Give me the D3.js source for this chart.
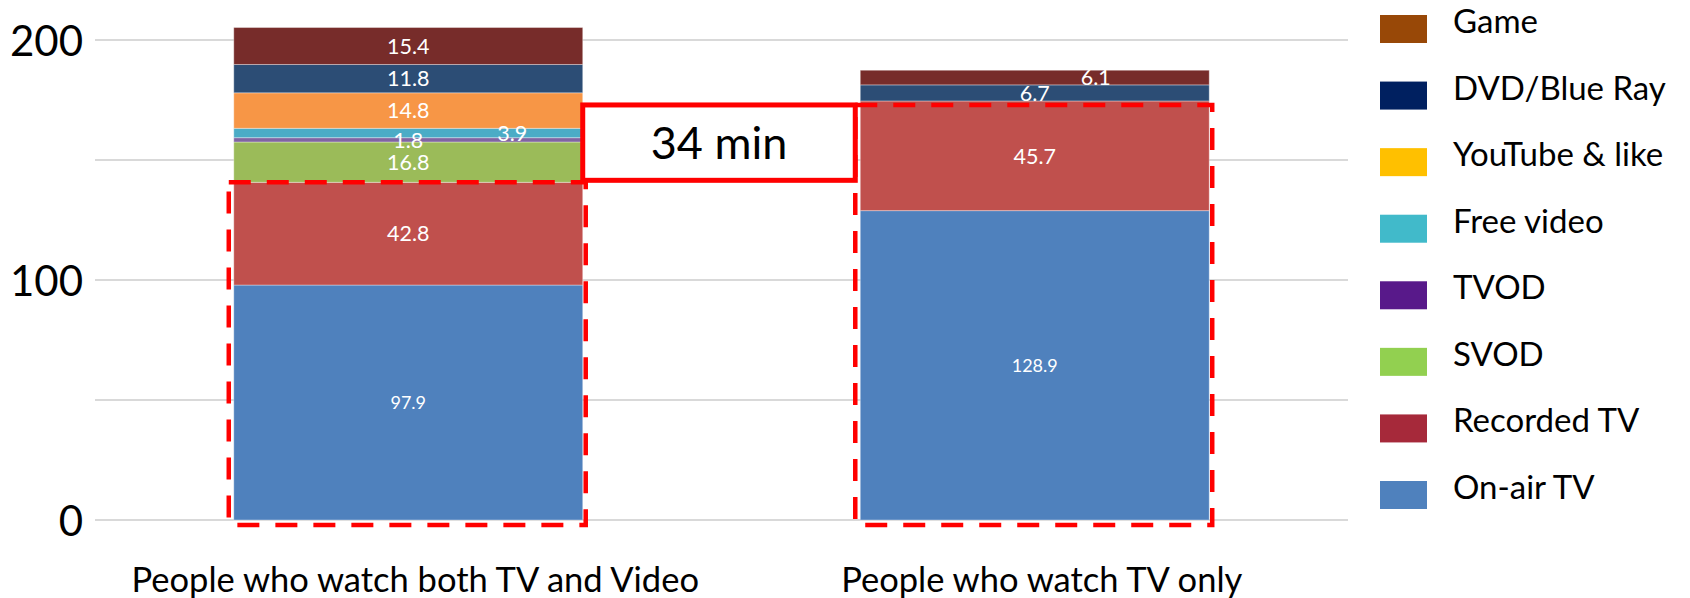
<!DOCTYPE html>
<html>
<head>
<meta charset="utf-8">
<script src="https://cdn.jsdelivr.net/npm/d3@7/dist/d3.min.js"></script>
<style>
  html, body { margin: 0; padding: 0; background: #fff; }
  svg { display: block; }
  text { font-family: Lato, "Open Sans", sans-serif; }
</style>
</head>
<body>
<svg id="chart" width="1690" height="598"></svg>
<script>
// ---------- data ----------
const categories = ["People who watch both TV and Video", "People who watch TV only"];
const seriesNames = ["On-air TV", "Recorded TV", "SVOD", "TVOD", "Free video", "YouTube & like", "DVD/Blue Ray", "Game"];
const onAirTV     = [97.9, 128.9];
const recordedTV  = [42.8, 45.7];
const svod        = [16.8, 0];
const tvod        = [1.8, 0];
const freeVideo   = [3.9, 0];
const youtubeLike = [14.8, 0];
const dvdBluRay   = [11.8, 6.7];
const game        = [15.4, 6.1];
const yTickLabels = [0, 100, 200];
const gridValues  = [0, 50, 100, 150, 200];
const legendOrder = ["Game", "DVD/Blue Ray", "YouTube & like", "Free video", "TVOD", "SVOD", "Recorded TV", "On-air TV"];
const annotationText = "34 min";

// ---------- styles ----------
const barColors = {
  "On-air TV": "#4F81BD", "Recorded TV": "#C0504D", "SVOD": "#9BBB59", "TVOD": "#8064A2",
  "Free video": "#4BACC6", "YouTube & like": "#F79646", "DVD/Blue Ray": "#2C4D75", "Game": "#772C2A"
};
const legendColors = {
  "Game": "#984807", "DVD/Blue Ray": "#002060", "YouTube & like": "#FFC000", "Free video": "#41BACA",
  "TVOD": "#58198A", "SVOD": "#92D050", "Recorded TV": "#A6293A", "On-air TV": "#4F81BD"
};
// label tweaks (style only): [series|categoryIndex] -> {dx, size}
const labelStyle = {
  "Free video|0": { dx: 104 },
  "Game|1": { dx: 61 },
  "On-air TV|0": { size: 18 },
  "On-air TV|1": { size: 18 }
};

const valuesBySeries = [onAirTV, recordedTV, svod, tvod, freeVideo, youtubeLike, dvdBluRay, game];
const table = categories.map((c, i) => {
  const row = { category: c, index: i };
  seriesNames.forEach((s, k) => row[s] = valuesBySeries[k][i]);
  return row;
});

const svg = d3.select("#chart");

const x = d3.scaleBand().domain(categories).range([95, 1348]).padding(0);
const barW = x.bandwidth() * 0.557;
const y = d3.scaleLinear().domain([0, 200]).range([520, 40]);

// gridlines
svg.append("g").selectAll("line").data(gridValues).join("line")
  .attr("x1", 95).attr("x2", 1348)
  .attr("y1", d => y(d)).attr("y2", d => y(d))
  .attr("stroke", "#d9d9d9").attr("stroke-width", 2);

// y axis labels via d3 axis
const yAxis = d3.axisLeft(y).tickValues(yTickLabels).tickSize(0).tickPadding(0).tickFormat(d3.format("d"));
const yg = svg.append("g").attr("transform", "translate(83,0)").call(yAxis);
yg.select(".domain").remove();
yg.selectAll("text").attr("font-family", "Lato").attr("font-size", 42).attr("fill", "#000").attr("dy", "0.38em");

// stacked bars
const stack = d3.stack().keys(seriesNames);
const stacked = stack(table);

const gBars = svg.append("g");
stacked.forEach(layer => {
  gBars.append("g").selectAll("rect").data(layer).join("rect")
    .attr("x", d => x(d.data.category) + (x.bandwidth() - barW) / 2)
    .attr("width", barW)
    .attr("y", d => y(d[1]))
    .attr("height", d => Math.max(0, y(d[0]) - y(d[1])))
    .attr("fill", barColors[layer.key])
    .attr("stroke", "#ffffff").attr("stroke-opacity", 0.35).attr("stroke-width", 1);
});

// value labels
stacked.forEach(layer => {
  layer.forEach((d, i) => {
    const v = d.data[layer.key];
    if (!v) return;
    const st = labelStyle[layer.key + "|" + i] || {};
    const size = st.size || 21.5;
    svg.append("text")
      .attr("x", x(d.data.category) + x.bandwidth() / 2 + (st.dx || 0))
      .attr("y", (y(d[0]) + y(d[1])) / 2)
      .attr("dy", "0.36em")
      .attr("text-anchor", "middle")
      .attr("font-size", size)
      .attr("fill", "#ffffff")
      .text(d3.format(".1f")(v));
  });
});

// totals of TV (on-air + recorded) for annotations
const tvTotals = table.map(r => r["On-air TV"] + r["Recorded TV"]);

// red dashed boxes around TV segments
table.forEach((r, i) => {
  const bx = x(r.category) + (x.bandwidth() - barW) / 2;
  const top = y(tvTotals[i]) + (i === 1 ? 4 : 0);
  svg.append("rect")
    .attr("x", bx - 5).attr("y", top)
    .attr("width", barW + 8).attr("height", y(0) + 5 - top)
    .attr("fill", "none").attr("stroke", "#FF0000")
    .attr("stroke-width", 4.5).attr("stroke-dasharray", "22,16");
});

// solid annotation box between bars
const b1Right = x(categories[0]) + (x.bandwidth() + barW) / 2;
const b2Left = x(categories[1]) + (x.bandwidth() - barW) / 2;
const boxTop = y(tvTotals[1]) + 4;
const boxBot = y(tvTotals[0]) - 2;
svg.append("rect")
  .attr("x", b1Right).attr("y", boxTop)
  .attr("width", b2Left - 5 - b1Right).attr("height", boxBot - boxTop)
  .attr("fill", "#fff").attr("stroke", "#FF0000").attr("stroke-width", 5);
svg.append("text")
  .attr("x", (b1Right + b2Left - 5) / 2).attr("y", (boxTop + boxBot) / 2)
  .attr("dy", "0.36em").attr("text-anchor", "middle")
  .attr("font-size", 45).attr("fill", "#000")
  .text(annotationText);

// x axis labels
const xAxis = d3.axisBottom(x).tickSize(0).tickPadding(0);
const xg = svg.append("g").attr("transform", "translate(7,592)").call(xAxis);
xg.select(".domain").remove();
xg.selectAll("text").attr("font-family", "Lato").attr("font-size", 34.5).attr("fill", "#000").attr("dy", 0);

// legend
const ly = d3.scalePoint().domain(legendOrder).range([29, 495]);
const lg = svg.append("g");
legendOrder.forEach(name => {
  lg.append("rect")
    .attr("x", 1380).attr("y", ly(name) - 14)
    .attr("width", 47).attr("height", 28)
    .attr("fill", legendColors[name]);
  lg.append("text")
    .attr("x", 1453).attr("y", ly(name) + 4)
    .attr("font-size", 33).attr("fill", "#000")
    .text(name);
});
</script>
</body>
</html>
